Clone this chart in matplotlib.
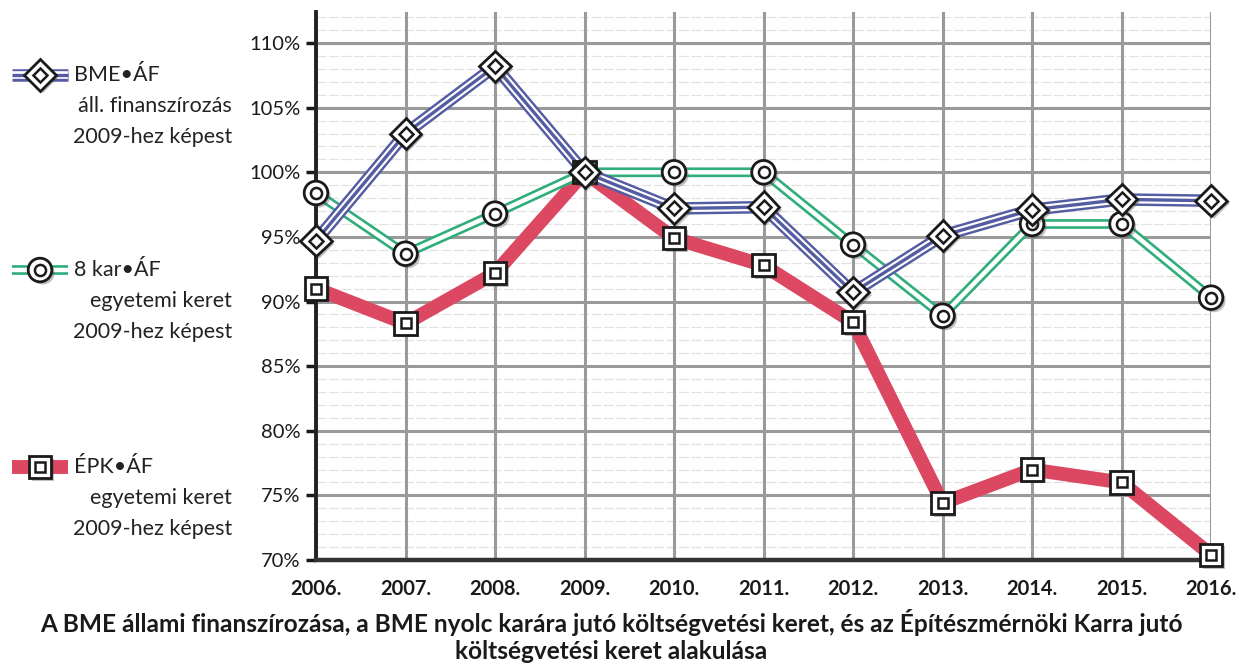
import numpy as np
import matplotlib
matplotlib.use("Agg")
import matplotlib.pyplot as plt
import matplotlib.patheffects as pe
from matplotlib.lines import Line2D
from matplotlib.ticker import MultipleLocator, FuncFormatter

plt.rcParams['font.family'] = ['Lato', 'DejaVu Sans']

years = [2006, 2007, 2008, 2009, 2010, 2011, 2012, 2013, 2014, 2015, 2016]
year_labels = [f"{y}." for y in years]

# values, % of 2009
bme_af = [94.7, 103.0, 108.2, 100.0, 97.2, 97.3, 90.7, 95.1, 97.1, 97.9, 97.8]
kar8_af = [98.4, 93.7, 96.8, 100.0, 100.0, 100.0, 94.4, 88.9, 96.0, 96.0, 90.3]
epk_af = [91.0, 88.3, 92.2, 100.0, 94.9, 92.8, 88.4, 74.4, 77.0, 76.0, 70.4]

legend_lines = [
    ["BME\u2022ÁF", "áll. finanszírozás", "2009-hez képest"],
    ["8 kar\u2022ÁF", "egyetemi keret", "2009-hez képest"],
    ["ÉPK\u2022ÁF", "egyetemi keret", "2009-hez képest"],
]
title = ("A BME állami finanszírozása, a BME nyolc karára jutó költségvetési keret, és az Építészmérnöki Karra jutó\n"
         "költségvetési keret alakulása")

BLUE = '#545ca2'
GREEN = '#2fae7c'
RED = '#dc4862'

# line layers: (color, width) drawn on top of each other
styles = {
    'blue': [(BLUE, 9), ('white', 5.5), (BLUE, 2.4)],
    'green': [(GREEN, 7), ('white', 3.2)],
    'red': [(RED, 10)],
}
markers = {'blue': ('D', 16, 7.5), 'green': ('o', 17, 8), 'red': ('s', 16, 7.5)}
shadow = [pe.SimplePatchShadow(offset=(2, -2), alpha=0.35), pe.Normal()]


def draw_lines(draw, xs, ys, key):
    for c, w in styles[key]:
        draw(xs, ys, color=c, lw=w, solid_joinstyle='round', solid_capstyle='butt')


def draw_markers(draw, xs, ys, key):
    m, outer, inner = markers[key]
    draw(xs, ys, ls='none', marker=m, ms=outer, mfc='white', mec='#1a1a1a', mew=2.0,
         path_effects=shadow)
    draw(xs, ys, ls='none', marker=m, ms=inner, mfc='white', mec='#1a1a1a', mew=1.8)


fig = plt.figure(figsize=(12.48, 6.65), dpi=100)
ax = fig.add_axes([0.2532, 0.1579, 0.9704 - 0.2532, 0.824])

order = [(epk_af, 'red'), (kar8_af, 'green'), (bme_af, 'blue')]
for vals, key in order:
    draw_lines(lambda x, y, **kw: ax.plot(x, y, zorder=3, clip_on=False, **kw), years, vals, key)
for vals, key in order:
    draw_markers(lambda x, y, **kw: ax.plot(x, y, zorder=5, clip_on=False, **kw), years, vals, key)

ax.set_xlim(2006, 2016)
ax.set_ylim(70, 112.4)
ax.set_xticks(years)
ax.set_xticklabels(year_labels, fontsize=14.5, fontweight='bold', color='#1a1a1a')
ax.yaxis.set_major_locator(MultipleLocator(5))
ax.yaxis.set_major_formatter(FuncFormatter(lambda v, p: f"{v:.0f}%" if v <= 110 else ""))
ax.tick_params(axis='y', labelsize=14.5, colors='#1a1a1a', length=7, width=2.5, pad=4)
ax.tick_params(axis='x', length=0, pad=14)

# faint minor lines every 1 %, below the major grid
minor = [v for v in range(71, 113) if v % 5 != 0]
ax.hlines(minor, 2006, 2016, color='#e2e2e2', lw=0.9, ls=(0, (8, 2)), zorder=0.5)
ax.grid(True, which='major', axis='both', color='#9a9a9a', lw=2.2, zorder=1)
ax.set_axisbelow(True)

for s in ['top', 'right']:
    ax.spines[s].set_visible(False)
ax.spines['left'].set_linewidth(2.8)
ax.spines['left'].set_color('#222222')
ax.spines['bottom'].set_linewidth(3.2)
ax.spines['bottom'].set_color('#333333')

# legend drawn at the left side
leg_y = [75, 270, 467]
for (text, key), y0 in zip(zip(legend_lines, ['blue', 'green', 'red']), leg_y):
    fy = 1 - y0 / 665
    xs = [12 / 1248, 68 / 1248]
    draw_lines(lambda x, y, **kw: fig.add_artist(Line2D(x, y, transform=fig.transFigure, **kw)),
               xs, [fy, fy], key)
    draw_markers(lambda x, y, **kw: fig.add_artist(Line2D(x, y, transform=fig.transFigure, **kw)),
                 [40 / 1248], [fy], key)
    fig.text(74 / 1248, fy, text[0], fontsize=15.5, color='#222222', va='center', ha='left')
    for i, t in enumerate(text[1:]):
        fig.text(232 / 1248, 1 - (y0 + 31 * (i + 1)) / 665, t, fontsize=15.5, color='#222222',
                 va='center', ha='right')

fig.text(0.49, 1 - 636 / 665, title, fontsize=17.6, fontweight='bold', ha='center', va='center',
         color='#1a1a1a', linespacing=1.2)

fig.savefig("out.png", dpi=100)
